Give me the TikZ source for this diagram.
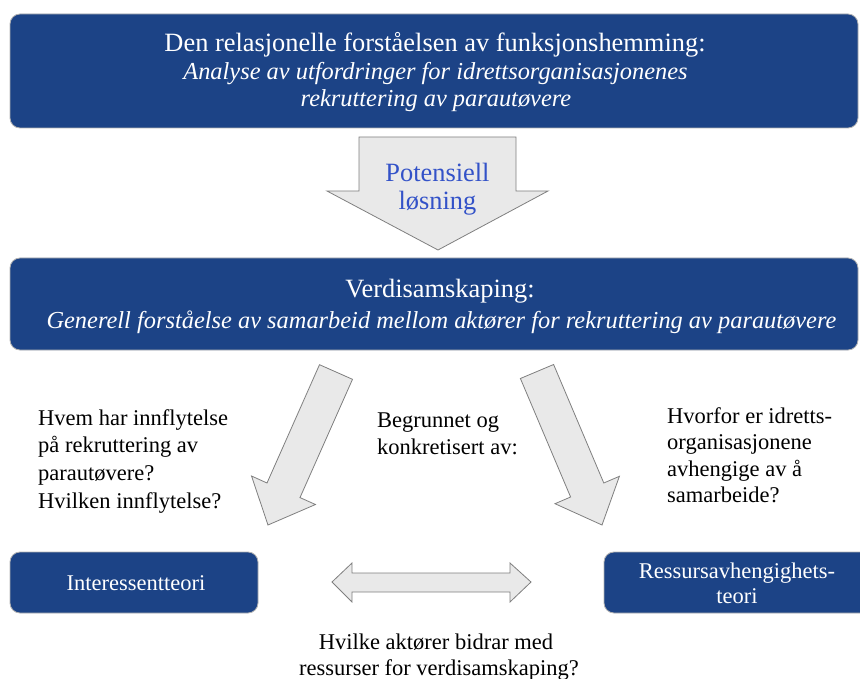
\documentclass[tikz,border=0pt]{standalone}
\usepackage{fontspec}
\setmainfont{Liberation Serif}
\definecolor{boxblue}{HTML}{1C4386}
\definecolor{potblue}{HTML}{3352C8}
\definecolor{arrowfill}{HTML}{E9E9E9}
\definecolor{arrowline}{HTML}{7F7F7F}
\begin{document}
\begin{tikzpicture}[x=1pt,y=-1pt,
  bluebox/.style={draw=black!30, line width=0.8pt, fill=boxblue, rounded corners=10pt, inner sep=0pt},
  boxup/.style={text=white, inner sep=0pt, anchor=base, font=\fontsize{26.4}{30}\selectfont},
  boxit/.style={text=white, inner sep=0pt, anchor=base, font=\fontsize{24.4}{28}\selectfont\itshape},
  boxsmall/.style={text=white, inner sep=0pt, anchor=base, font=\fontsize{22.5}{26}\selectfont},
  blockarrow/.style={draw=arrowline, line width=0.8pt, fill=arrowfill, line join=miter},
  lbl/.style={font=\fontsize{22.5}{27}\selectfont, inner sep=0pt, anchor=base west},
  lblc/.style={font=\fontsize{22.5}{27}\selectfont, inner sep=0pt, anchor=base},
]
\useasboundingbox (0,0) rectangle (860,679);

% boxes
\node[bluebox, minimum width=848pt, minimum height=114pt] (top) at (434,71) {};
\node[boxup] (top1) at (435,52) {Den relasjonelle forståelsen av funksjonshemming:};
\node[boxit] (top2) at (435.5,80) {Analyse av utfordringer for idrettsorganisasjonenes};
\node[boxit] (top3) at (436,107) {rekruttering av parautøvere};

\node[bluebox, minimum width=848pt, minimum height=92pt] (mid) at (434,304) {};
\node[boxup] (mid1) at (440,298) {Verdisamskaping:};
\node[boxit] (mid2) at (441.5,328) {Generell forståelse av samarbeid mellom aktører for rekruttering av parautøvere};

\node[bluebox, minimum width=248pt, minimum height=61pt] (inter) at (134,582.5) {};
\node[boxsmall] (inter1) at (136,590) {Interessentteori};

\node[bluebox, minimum width=268pt, minimum height=61pt] (ress) at (738,582.5) {};
\node[boxsmall] (ress1) at (737,578) {Ressursavhengighets-};
\node[boxsmall] (ress2) at (737,603) {teori};

% down arrow
\draw[blockarrow] (359,137) -- (516,137) -- (516,191) -- (548,191) -- (438,250)
  -- (327,191) -- (359,191) -- cycle;
\node[boxup, text=potblue] (pot1) at (437.5,182) {Potensiell};
\node[boxup, text=potblue] (pot2) at (437.5,210) {løsning};

% left diagonal arrow
\draw[blockarrow] (319.5,364.7) -- (352.5,379.3) -- (300,497.6) -- (315.5,504.5)
  -- (268,525) -- (251.5,476) -- (267,483) -- cycle;
% right diagonal arrow
\draw[blockarrow] (520.4,378.5) -- (553.6,364.5) -- (603.8,483) -- (619.4,476.3)
  -- (602,525) -- (555,503.7) -- (570.6,497) -- cycle;

% double arrow
\draw[blockarrow] (332,582) -- (352,563) -- (352,573) -- (510,573) -- (510,563)
  -- (531,582) -- (510,602) -- (510,592) -- (352,592) -- (352,602) -- cycle;

% labels
\node[lbl] (ql1) at (38,425) {Hvem har innflytelse};
\node[lbl] (ql2) at (38,452.7) {på rekruttering av};
\node[lbl] (ql3) at (38,480.4) {parautøvere?};
\node[lbl] (ql4) at (38,508) {Hvilken innflytelse?};

\node[lbl] (b1) at (377,427) {Begrunnet og};
\node[lbl] (b2) at (377,454) {konkretisert av:};

\node[lbl] (qr1) at (667,423) {Hvorfor er idretts-};
\node[lbl] (qr2) at (667,449.5) {organisasjonene};
\node[lbl] (qr3) at (667,476) {avhengige av å};
\node[lbl] (qr4) at (667,502.5) {samarbeide?};

\node[lblc] (qb1) at (436,649) {Hvilke aktører bidrar med};
\node[lblc] (qb2) at (439,675) {ressurser for verdisamskaping?};
\end{tikzpicture}
\end{document}
